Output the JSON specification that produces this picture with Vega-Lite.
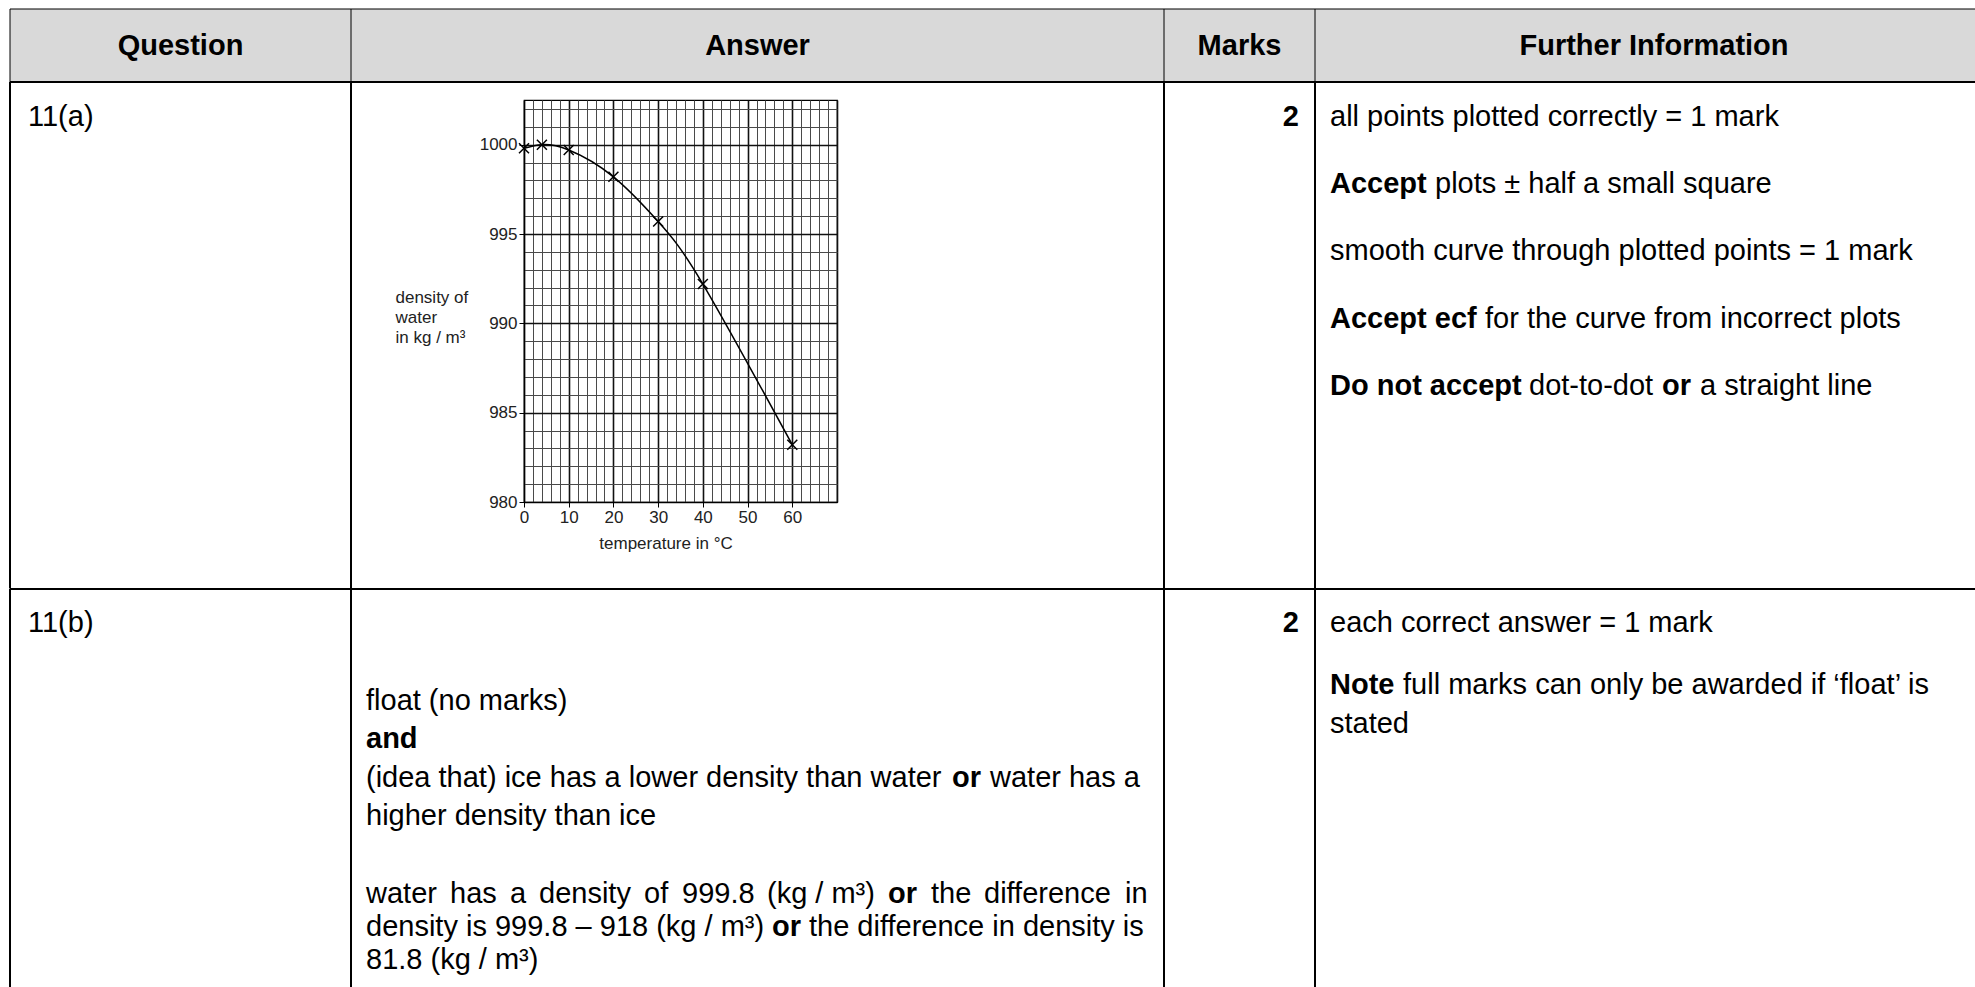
{
  "$schema": "https://vega.github.io/schema/vega-lite/v6.json",
  "padding": {"left": 9, "top": 8, "right": 0, "bottom": 0},
  "background": "white",
  "columns": 6,
  "spacing": 0,
  "bounds": "flush",
  "align": "each",
  "datasets": {
    "points": [
      {"temperature": 0, "density": 999.8},
      {"temperature": 4, "density": 1000.0},
      {"temperature": 10, "density": 999.7},
      {"temperature": 20, "density": 998.2},
      {"temperature": 30, "density": 995.7},
      {"temperature": 40, "density": 992.2},
      {"temperature": 60, "density": 983.2}
    ],
    "edge": [{"edge": "border"}],
    "cells": [
      {"row": "head", "col": "Q", "text": "Question"},
      {"row": "head", "col": "A", "text": "Answer"},
      {"row": "head", "col": "M", "text": "Marks"},
      {"row": "head", "col": "F", "text": "Further Information"},
      {"row": "a", "col": "Q", "line": 0, "seg": "plain", "text": "11(a)"},
      {"row": "a", "col": "M", "line": 0, "seg": "bold", "text": "2"},
      {"row": "a", "col": "F", "line": 0, "seg": "plain", "text": "all points plotted correctly = 1 mark"},
      {"row": "a", "col": "F", "line": 1, "seg": "bold", "text": "Accept"},
      {"row": "a", "col": "F", "line": 1, "seg": "after-accept", "text": "plots ± half a small square"},
      {"row": "a", "col": "F", "line": 2, "seg": "plain", "text": "smooth curve through plotted points = 1 mark"},
      {"row": "a", "col": "F", "line": 3, "seg": "bold", "text": "Accept ecf"},
      {"row": "a", "col": "F", "line": 3, "seg": "after-ecf", "text": "for the curve from incorrect plots"},
      {"row": "a", "col": "F", "line": 4, "seg": "bold", "text": "Do not accept"},
      {"row": "a", "col": "F", "line": 4, "seg": "after-dna", "text": "dot-to-dot"},
      {"row": "a", "col": "F", "line": 4, "seg": "dna-or", "text": "or"},
      {"row": "a", "col": "F", "line": 4, "seg": "dna-end", "text": "a straight line"},
      {"row": "b", "col": "Q", "line": 0, "seg": "plain", "text": "11(b)"},
      {"row": "b", "col": "M", "line": 0, "seg": "bold", "text": "2"},
      {"row": "b", "col": "F", "line": 0, "seg": "plain", "text": "each correct answer = 1 mark"},
      {"row": "b", "col": "F", "line": 2, "seg": "bold", "text": "Note"},
      {"row": "b", "col": "F", "line": 2, "seg": "after-note", "text": "full marks can only be awarded if ‘float’ is"},
      {"row": "b", "col": "F", "line": 3, "seg": "plain", "text": "stated"},
      {"row": "b", "col": "A", "line": 0, "seg": "plain", "text": "float (no marks)"},
      {"row": "b", "col": "A", "line": 1, "seg": "bold", "text": "and"},
      {"row": "b", "col": "A", "line": 2, "seg": "plain", "text": "(idea that) ice has a lower density than water"},
      {"row": "b", "col": "A", "line": 2, "seg": "idea-or", "text": "or"},
      {"row": "b", "col": "A", "line": 2, "seg": "idea-end", "text": "water has a"},
      {"row": "b", "col": "A", "line": 3, "seg": "plain", "text": "higher density than ice"},
      {"row": "b", "col": "A", "line": 5, "seg": "plain", "text": "water"},
      {"row": "b", "col": "A", "line": 5, "seg": "w2", "text": "has"},
      {"row": "b", "col": "A", "line": 5, "seg": "w3", "text": "a"},
      {"row": "b", "col": "A", "line": 5, "seg": "w4", "text": "density"},
      {"row": "b", "col": "A", "line": 5, "seg": "w5", "text": "of"},
      {"row": "b", "col": "A", "line": 5, "seg": "w6", "text": "999.8"},
      {"row": "b", "col": "A", "line": 5, "seg": "w7", "text": "(kg / m³)"},
      {"row": "b", "col": "A", "line": 5, "seg": "w-or", "text": "or"},
      {"row": "b", "col": "A", "line": 5, "seg": "w8", "text": "the"},
      {"row": "b", "col": "A", "line": 5, "seg": "w9", "text": "difference"},
      {"row": "b", "col": "A", "line": 5, "seg": "w10", "text": "in"},
      {"row": "b", "col": "A", "line": 6, "seg": "plain", "text": "density is 999.8 – 918 (kg / m³)"},
      {"row": "b", "col": "A", "line": 6, "seg": "d-or", "text": "or"},
      {"row": "b", "col": "A", "line": 6, "seg": "d-end", "text": "the difference in density is"},
      {"row": "b", "col": "A", "line": 7, "seg": "plain", "text": "81.8 (kg / m³)"}
    ]
  },
  "concat": [
    {
      "width": 341, "height": 73,
      "view": {"fill": "#d9d9d9", "stroke": null},
      "resolve": {"scale": {"x": "independent", "y": "independent"}},
      "layer": [
        {"data": {"name": "edge"}, "mark": {"type": "rule", "color": "black", "strokeWidth": 1}, "encoding": {"x": {"datum": 0, "type": "quantitative", "scale": {"domain": [0, 1]}, "axis": null}}},
        {"data": {"name": "edge"}, "mark": {"type": "rule", "color": "black", "strokeWidth": 1}, "encoding": {"y": {"datum": 1, "type": "quantitative", "scale": {"domain": [0, 1]}, "axis": null}}},
        {"data": {"name": "cells"}, "transform": [{"filter": "datum.row === 'head' && datum.col === 'Q'"}], "mark": {"type": "text", "font": "Liberation Sans", "fontSize": 29, "fontWeight": "bold", "color": "black", "align": "center", "baseline": "middle"}, "encoding": {"text": {"field": "text"}}}
      ]
    },
    {
      "width": 173, "height": 73,
      "view": {"fill": "#d9d9d9", "stroke": null},
      "resolve": {"scale": {"x": "independent", "y": "independent"}},
      "layer": [
        {"data": {"name": "edge"}, "mark": {"type": "rule", "color": "black", "strokeWidth": 1}, "encoding": {"x": {"datum": 0, "type": "quantitative", "scale": {"domain": [0, 1]}, "axis": null}}},
        {"data": {"name": "edge"}, "mark": {"type": "rule", "color": "black", "strokeWidth": 1}, "encoding": {"y": {"datum": 1, "type": "quantitative", "scale": {"domain": [0, 1]}, "axis": null}}}
      ]
    },
    {
      "width": 313, "height": 73,
      "view": {"fill": "#d9d9d9", "stroke": null},
      "resolve": {"scale": {"x": "independent", "y": "independent"}},
      "layer": [
        {"data": {"name": "edge"}, "mark": {"type": "rule", "color": "black", "strokeWidth": 1}, "encoding": {"y": {"datum": 1, "type": "quantitative", "scale": {"domain": [0, 1]}, "axis": null}}},
        {"data": {"name": "cells"}, "transform": [{"filter": "datum.row === 'head' && datum.col === 'A'"}], "mark": {"type": "text", "font": "Liberation Sans", "fontSize": 29, "fontWeight": "bold", "color": "black", "align": "center", "baseline": "middle", "dx": 77}, "encoding": {"text": {"field": "text"}}}
      ]
    },
    {
      "width": 327, "height": 73,
      "view": {"fill": "#d9d9d9", "stroke": null},
      "data": {"name": "edge"},
      "mark": {"type": "rule", "color": "black", "strokeWidth": 1},
      "encoding": {"y": {"datum": 1, "type": "quantitative", "scale": {"domain": [0, 1]}, "axis": null}}
    },
    {
      "width": 151, "height": 73,
      "view": {"fill": "#d9d9d9", "stroke": null},
      "resolve": {"scale": {"x": "independent", "y": "independent"}},
      "layer": [
        {"data": {"name": "edge"}, "mark": {"type": "rule", "color": "black", "strokeWidth": 1}, "encoding": {"x": {"datum": 0, "type": "quantitative", "scale": {"domain": [0, 1]}, "axis": null}}},
        {"data": {"name": "edge"}, "mark": {"type": "rule", "color": "black", "strokeWidth": 1}, "encoding": {"y": {"datum": 1, "type": "quantitative", "scale": {"domain": [0, 1]}, "axis": null}}},
        {"data": {"name": "cells"}, "transform": [{"filter": "datum.row === 'head' && datum.col === 'M'"}], "mark": {"type": "text", "font": "Liberation Sans", "fontSize": 29, "fontWeight": "bold", "color": "black", "align": "center", "baseline": "middle"}, "encoding": {"text": {"field": "text"}}}
      ]
    },
    {
      "width": 660, "height": 73,
      "view": {"fill": "#d9d9d9", "stroke": null},
      "resolve": {"scale": {"x": "independent", "y": "independent"}},
      "layer": [
        {"data": {"name": "edge"}, "mark": {"type": "rule", "color": "black", "strokeWidth": 1}, "encoding": {"x": {"datum": 0, "type": "quantitative", "scale": {"domain": [0, 1]}, "axis": null}}},
        {"data": {"name": "edge"}, "mark": {"type": "rule", "color": "black", "strokeWidth": 1}, "encoding": {"y": {"datum": 1, "type": "quantitative", "scale": {"domain": [0, 1]}, "axis": null}}},
        {"data": {"name": "cells"}, "transform": [{"filter": "datum.row === 'head' && datum.col === 'F'"}], "mark": {"type": "text", "font": "Liberation Sans", "fontSize": 29, "fontWeight": "bold", "color": "black", "align": "center", "baseline": "middle", "dx": 9}, "encoding": {"text": {"field": "text"}}}
      ]
    },

    {
      "width": 341, "height": 18,
      "resolve": {"scale": {"x": "independent", "y": "independent"}},
      "layer": [
        {"data": {"name": "edge"}, "mark": {"type": "rule", "color": "black", "strokeWidth": 2}, "encoding": {"x": {"datum": 0, "type": "quantitative", "scale": {"domain": [0, 1]}, "axis": null}}},
        {"data": {"name": "edge"}, "mark": {"type": "rule", "color": "black", "strokeWidth": 2}, "encoding": {"y": {"datum": 1, "type": "quantitative", "scale": {"domain": [0, 1]}, "axis": null}}}
      ]
    },
    {
      "width": 173, "height": 18,
      "resolve": {"scale": {"x": "independent", "y": "independent"}},
      "layer": [
        {"data": {"name": "edge"}, "mark": {"type": "rule", "color": "black", "strokeWidth": 2}, "encoding": {"x": {"datum": 0, "type": "quantitative", "scale": {"domain": [0, 1]}, "axis": null}}},
        {"data": {"name": "edge"}, "mark": {"type": "rule", "color": "black", "strokeWidth": 2}, "encoding": {"y": {"datum": 1, "type": "quantitative", "scale": {"domain": [0, 1]}, "axis": null}}}
      ]
    },
    {
      "width": 313, "height": 18,
      "data": {"name": "edge"},
      "mark": {"type": "rule", "color": "black", "strokeWidth": 2},
      "encoding": {"y": {"datum": 1, "type": "quantitative", "scale": {"domain": [0, 1]}, "axis": null}}
    },
    {
      "width": 327, "height": 18,
      "data": {"name": "edge"},
      "mark": {"type": "rule", "color": "black", "strokeWidth": 2},
      "encoding": {"y": {"datum": 1, "type": "quantitative", "scale": {"domain": [0, 1]}, "axis": null}}
    },
    {
      "width": 151, "height": 18,
      "resolve": {"scale": {"x": "independent", "y": "independent"}},
      "layer": [
        {"data": {"name": "edge"}, "mark": {"type": "rule", "color": "black", "strokeWidth": 2}, "encoding": {"x": {"datum": 0, "type": "quantitative", "scale": {"domain": [0, 1]}, "axis": null}}},
        {"data": {"name": "edge"}, "mark": {"type": "rule", "color": "black", "strokeWidth": 2}, "encoding": {"y": {"datum": 1, "type": "quantitative", "scale": {"domain": [0, 1]}, "axis": null}}}
      ]
    },
    {
      "width": 660, "height": 18,
      "resolve": {"scale": {"x": "independent", "y": "independent"}},
      "layer": [
        {"data": {"name": "edge"}, "mark": {"type": "rule", "color": "black", "strokeWidth": 2}, "encoding": {"x": {"datum": 0, "type": "quantitative", "scale": {"domain": [0, 1]}, "axis": null}}},
        {"data": {"name": "edge"}, "mark": {"type": "rule", "color": "black", "strokeWidth": 2}, "encoding": {"y": {"datum": 1, "type": "quantitative", "scale": {"domain": [0, 1]}, "axis": null}}}
      ]
    },

    {
      "width": 341, "height": 488.5,
      "resolve": {"scale": {"x": "independent", "y": "independent"}},
      "layer": [
        {"data": {"name": "edge"}, "mark": {"type": "rule", "color": "black", "strokeWidth": 2}, "encoding": {"x": {"datum": 0, "type": "quantitative", "scale": {"domain": [0, 1]}, "axis": null}}},
        {
          "data": {"name": "cells"},
          "transform": [{"filter": "datum.row === 'a' && datum.col === 'Q'"}],
          "mark": {"type": "text", "font": "Liberation Sans", "fontSize": 29, "color": "black", "align": "left", "baseline": "middle", "dx": 18},
          "encoding": {
            "x": {"datum": 0, "type": "quantitative", "scale": {"domain": [0, 1]}, "axis": null},
            "y": {"field": "line", "type": "quantitative", "scale": {"domain": [0, 4], "range": [16.5, 286], "nice": false, "zero": false}, "axis": null},
            "text": {"field": "text"}
          }
        }
      ]
    },
    {
      "width": 173, "height": 488.5,
      "data": {"name": "edge"},
      "mark": {"type": "rule", "color": "black", "strokeWidth": 2},
      "encoding": {"x": {"datum": 0, "type": "quantitative", "scale": {"domain": [0, 1]}, "axis": null}}
    },
    {
      "width": 313, "height": 402,
      "view": {"stroke": "black", "strokeWidth": 1.2},
      "data": {"name": "points"},
      "encoding": {
        "x": {
          "field": "temperature", "type": "quantitative",
          "scale": {"domain": [0, 70], "nice": false, "zero": false},
          "axis": {
            "values": [0, 2, 4, 6, 8, 10, 12, 14, 16, 18, 20, 22, 24, 26, 28, 30, 32, 34, 36, 38, 40, 42, 44, 46, 48, 50, 52, 54, 56, 58, 60, 62, 64, 66, 68, 70],
            "grid": true,
            "gridColor": {"condition": {"test": "datum.value % 10 === 0", "value": "#111111"}, "value": "#4a4a4a"},
            "gridWidth": {"condition": {"test": "datum.value % 10 === 0", "value": 1.6}, "value": 1},
            "gridOpacity": 1,
            "domain": true, "domainColor": "black", "domainWidth": 1.2,
            "ticks": true, "tickColor": "black", "tickSize": 5, "tickWidth": 1,
            "tickOpacity": {"condition": {"test": "datum.value % 10 === 0 && datum.value <= 60", "value": 1}, "value": 0},
            "format": "d",
            "labelExpr": "datum.value % 10 === 0 && datum.value <= 60 ? datum.label : ''",
            "labelFont": "Liberation Sans", "labelFontSize": 17, "labelColor": "#222222", "labelPadding": 2,
            "labelOverlap": false, "labelFlush": false, "labelBound": false,
            "title": "temperature in °C",
            "titleFont": "Liberation Sans", "titleFontSize": 17, "titleFontWeight": "normal", "titleColor": "#222222",
            "titleX": 141.5, "titleY": 41, "titleAlign": "center", "titleBaseline": "middle"
          }
        },
        "y": {
          "field": "density", "type": "quantitative",
          "scale": {"domain": [980, 1002.5], "nice": false, "zero": false},
          "axis": {
            "values": [980, 980.5, 981, 981.5, 982, 982.5, 983, 983.5, 984, 984.5, 985, 985.5, 986, 986.5, 987, 987.5, 988, 988.5, 989, 989.5, 990, 990.5, 991, 991.5, 992, 992.5, 993, 993.5, 994, 994.5, 995, 995.5, 996, 996.5, 997, 997.5, 998, 998.5, 999, 999.5, 1000, 1000.5, 1001, 1001.5, 1002, 1002.5],
            "grid": true,
            "gridColor": {"condition": {"test": "datum.value % 5 === 0", "value": "#111111"}, "value": "#4a4a4a"},
            "gridWidth": {"condition": {"test": "datum.value % 5 === 0", "value": 1.6}, "value": 1},
            "gridOpacity": 1,
            "domain": true, "domainColor": "black", "domainWidth": 1.2,
            "ticks": true, "tickColor": "black", "tickSize": 5, "tickWidth": 1,
            "tickOpacity": {"condition": {"test": "datum.value % 5 === 0 && datum.value <= 1000", "value": 1}, "value": 0},
            "format": "d",
            "labelExpr": "datum.value % 5 === 0 && datum.value <= 1000 ? datum.label : ''",
            "labelFont": "Liberation Sans", "labelFontSize": 17, "labelColor": "#222222", "labelPadding": 2,
            "labelOverlap": false, "labelFlush": false, "labelBound": false,
            "title": ["density of", "water", "in kg / m³"],
            "titleFont": "Liberation Sans", "titleFontSize": 17, "titleFontWeight": "normal", "titleColor": "#222222",
            "titleAngle": 0, "titleAlign": "left", "titleBaseline": "middle",
            "titleX": -129, "titleY": 197, "titleLineHeight": 20
          }
        }
      },
      "layer": [
        {"mark": {"type": "line", "interpolate": "natural", "color": "black", "strokeWidth": 1.5}},
        {"mark": {"type": "point", "shape": "M-1,-1L1,1M-1,1L1,-1", "filled": false, "color": "black", "size": 100, "strokeWidth": 1.5, "opacity": 1}}
      ]
    },
    {
      "width": 327, "height": 488.5,
      "data": {"name": "edge"},
      "mark": {"type": "rule", "opacity": 0},
      "encoding": {"x": {"datum": 0, "type": "quantitative", "scale": {"domain": [0, 1]}, "axis": null}}
    },
    {
      "width": 151, "height": 488.5,
      "resolve": {"scale": {"x": "independent", "y": "independent"}},
      "layer": [
        {"data": {"name": "edge"}, "mark": {"type": "rule", "color": "black", "strokeWidth": 2}, "encoding": {"x": {"datum": 0, "type": "quantitative", "scale": {"domain": [0, 1]}, "axis": null}}},
        {
          "data": {"name": "cells"},
          "transform": [{"filter": "datum.row === 'a' && datum.col === 'M'"}],
          "mark": {"type": "text", "font": "Liberation Sans", "fontSize": 29, "fontWeight": "bold", "color": "black", "align": "right", "baseline": "middle", "dx": -16},
          "encoding": {
            "x": {"datum": 1, "type": "quantitative", "scale": {"domain": [0, 1]}, "axis": null},
            "y": {"field": "line", "type": "quantitative", "scale": {"domain": [0, 4], "range": [16.5, 286], "nice": false, "zero": false}, "axis": null},
            "text": {"field": "text"}
          }
        }
      ]
    },
    {
      "width": 660, "height": 488.5,
      "resolve": {"scale": {"x": "independent", "y": "independent"}},
      "layer": [
        {"data": {"name": "edge"}, "mark": {"type": "rule", "color": "black", "strokeWidth": 2}, "encoding": {"x": {"datum": 0, "type": "quantitative", "scale": {"domain": [0, 1]}, "axis": null}}},
        {
          "data": {"name": "cells"},
          "transform": [{"filter": "datum.row === 'a' && datum.col === 'F'"}],
          "encoding": {
            "x": {"datum": 0, "type": "quantitative", "scale": {"domain": [0, 1]}, "axis": null},
            "y": {"field": "line", "type": "quantitative", "scale": {"domain": [0, 4], "range": [16.5, 286], "nice": false, "zero": false}, "axis": null},
            "text": {"field": "text"}
          },
          "layer": [
            {"transform": [{"filter": {"field": "seg", "equal": "plain"}}], "mark": {"type": "text", "font": "Liberation Sans", "fontSize": 29, "color": "black", "align": "left", "baseline": "middle", "dx": 15}},
            {"transform": [{"filter": {"field": "seg", "equal": "bold"}}], "mark": {"type": "text", "font": "Liberation Sans", "fontSize": 29, "fontWeight": "bold", "color": "black", "align": "left", "baseline": "middle", "dx": 15}},
            {"transform": [{"filter": {"field": "seg", "equal": "after-accept"}}], "mark": {"type": "text", "font": "Liberation Sans", "fontSize": 29, "color": "black", "align": "left", "baseline": "middle", "dx": 120}},
            {"transform": [{"filter": {"field": "seg", "equal": "after-ecf"}}], "mark": {"type": "text", "font": "Liberation Sans", "fontSize": 29, "color": "black", "align": "left", "baseline": "middle", "dx": 170}},
            {"transform": [{"filter": {"field": "seg", "equal": "after-dna"}}], "mark": {"type": "text", "font": "Liberation Sans", "fontSize": 29, "color": "black", "align": "left", "baseline": "middle", "dx": 214}},
            {"transform": [{"filter": {"field": "seg", "equal": "dna-or"}}], "mark": {"type": "text", "font": "Liberation Sans", "fontSize": 29, "fontWeight": "bold", "color": "black", "align": "left", "baseline": "middle", "dx": 347}},
            {"transform": [{"filter": {"field": "seg", "equal": "dna-end"}}], "mark": {"type": "text", "font": "Liberation Sans", "fontSize": 29, "color": "black", "align": "left", "baseline": "middle", "dx": 385}}
          ]
        }
      ]
    },

    {
      "width": 341, "height": 398,
      "resolve": {"scale": {"x": "independent", "y": "independent"}},
      "layer": [
        {"data": {"name": "edge"}, "mark": {"type": "rule", "color": "black", "strokeWidth": 2}, "encoding": {"x": {"datum": 0, "type": "quantitative", "scale": {"domain": [0, 1]}, "axis": null}}},
        {"data": {"name": "edge"}, "mark": {"type": "rule", "color": "black", "strokeWidth": 2}, "encoding": {"y": {"datum": 1, "type": "quantitative", "scale": {"domain": [0, 1]}, "axis": null}}},
        {
          "data": {"name": "cells"},
          "transform": [{"filter": "datum.row === 'b' && datum.col === 'Q'"}],
          "mark": {"type": "text", "font": "Liberation Sans", "fontSize": 29, "color": "black", "align": "left", "baseline": "middle", "dx": 18},
          "encoding": {
            "x": {"datum": 0, "type": "quantitative", "scale": {"domain": [0, 1]}, "axis": null},
            "y": {"field": "line", "type": "quantitative", "scale": {"domain": [0, 3], "range": [34, 135], "nice": false, "zero": false}, "axis": null},
            "text": {"field": "text"}
          }
        }
      ]
    },
    {
      "width": 173, "height": 398,
      "resolve": {"scale": {"x": "independent", "y": "independent"}},
      "layer": [
        {"data": {"name": "edge"}, "mark": {"type": "rule", "color": "black", "strokeWidth": 2}, "encoding": {"x": {"datum": 0, "type": "quantitative", "scale": {"domain": [0, 1]}, "axis": null}}},
        {"data": {"name": "edge"}, "mark": {"type": "rule", "color": "black", "strokeWidth": 2}, "encoding": {"y": {"datum": 1, "type": "quantitative", "scale": {"domain": [0, 1]}, "axis": null}}},
        {
          "data": {"name": "cells"},
          "transform": [{"filter": "datum.row === 'b' && datum.col === 'A'"}],
          "encoding": {
            "x": {"datum": 0, "type": "quantitative", "scale": {"domain": [0, 1]}, "axis": null},
            "y": {"field": "line", "type": "quantitative", "scale": {"domain": [0, 3, 5, 7], "range": [111.5, 227, 305, 371], "nice": false, "zero": false}, "axis": null},
            "text": {"field": "text"}
          },
          "layer": [
            {"transform": [{"filter": {"field": "seg", "equal": "plain"}}], "mark": {"type": "text", "font": "Liberation Sans", "fontSize": 29, "color": "black", "align": "left", "baseline": "middle", "dx": 15}},
            {"transform": [{"filter": {"field": "seg", "equal": "bold"}}], "mark": {"type": "text", "font": "Liberation Sans", "fontSize": 29, "fontWeight": "bold", "color": "black", "align": "left", "baseline": "middle", "dx": 15}},
            {"transform": [{"filter": {"field": "seg", "equal": "idea-or"}}], "mark": {"type": "text", "font": "Liberation Sans", "fontSize": 29, "fontWeight": "bold", "color": "black", "align": "left", "baseline": "middle", "dx": 601}},
            {"transform": [{"filter": {"field": "seg", "equal": "idea-end"}}], "mark": {"type": "text", "font": "Liberation Sans", "fontSize": 29, "color": "black", "align": "left", "baseline": "middle", "dx": 639}},
            {"transform": [{"filter": {"field": "seg", "equal": "w2"}}], "mark": {"type": "text", "font": "Liberation Sans", "fontSize": 29, "color": "black", "align": "left", "baseline": "middle", "dx": 99}},
            {"transform": [{"filter": {"field": "seg", "equal": "w3"}}], "mark": {"type": "text", "font": "Liberation Sans", "fontSize": 29, "color": "black", "align": "left", "baseline": "middle", "dx": 159}},
            {"transform": [{"filter": {"field": "seg", "equal": "w4"}}], "mark": {"type": "text", "font": "Liberation Sans", "fontSize": 29, "color": "black", "align": "left", "baseline": "middle", "dx": 188}},
            {"transform": [{"filter": {"field": "seg", "equal": "w5"}}], "mark": {"type": "text", "font": "Liberation Sans", "fontSize": 29, "color": "black", "align": "left", "baseline": "middle", "dx": 293}},
            {"transform": [{"filter": {"field": "seg", "equal": "w6"}}], "mark": {"type": "text", "font": "Liberation Sans", "fontSize": 29, "color": "black", "align": "left", "baseline": "middle", "dx": 331}},
            {"transform": [{"filter": {"field": "seg", "equal": "w7"}}], "mark": {"type": "text", "font": "Liberation Sans", "fontSize": 29, "color": "black", "align": "left", "baseline": "middle", "dx": 416}},
            {"transform": [{"filter": {"field": "seg", "equal": "w-or"}}], "mark": {"type": "text", "font": "Liberation Sans", "fontSize": 29, "fontWeight": "bold", "color": "black", "align": "left", "baseline": "middle", "dx": 537}},
            {"transform": [{"filter": {"field": "seg", "equal": "w8"}}], "mark": {"type": "text", "font": "Liberation Sans", "fontSize": 29, "color": "black", "align": "left", "baseline": "middle", "dx": 580}},
            {"transform": [{"filter": {"field": "seg", "equal": "w9"}}], "mark": {"type": "text", "font": "Liberation Sans", "fontSize": 29, "color": "black", "align": "left", "baseline": "middle", "dx": 633}},
            {"transform": [{"filter": {"field": "seg", "equal": "w10"}}], "mark": {"type": "text", "font": "Liberation Sans", "fontSize": 29, "color": "black", "align": "left", "baseline": "middle", "dx": 774}},
            {"transform": [{"filter": {"field": "seg", "equal": "d-or"}}], "mark": {"type": "text", "font": "Liberation Sans", "fontSize": 29, "fontWeight": "bold", "color": "black", "align": "left", "baseline": "middle", "dx": 421}},
            {"transform": [{"filter": {"field": "seg", "equal": "d-end"}}], "mark": {"type": "text", "font": "Liberation Sans", "fontSize": 29, "color": "black", "align": "left", "baseline": "middle", "dx": 458}}
          ]
        }
      ]
    },
    {
      "width": 313, "height": 398,
      "data": {"name": "edge"},
      "mark": {"type": "rule", "color": "black", "strokeWidth": 2},
      "encoding": {"y": {"datum": 1, "type": "quantitative", "scale": {"domain": [0, 1]}, "axis": null}}
    },
    {
      "width": 327, "height": 398,
      "data": {"name": "edge"},
      "mark": {"type": "rule", "color": "black", "strokeWidth": 2},
      "encoding": {"y": {"datum": 1, "type": "quantitative", "scale": {"domain": [0, 1]}, "axis": null}}
    },
    {
      "width": 151, "height": 398,
      "resolve": {"scale": {"x": "independent", "y": "independent"}},
      "layer": [
        {"data": {"name": "edge"}, "mark": {"type": "rule", "color": "black", "strokeWidth": 2}, "encoding": {"x": {"datum": 0, "type": "quantitative", "scale": {"domain": [0, 1]}, "axis": null}}},
        {"data": {"name": "edge"}, "mark": {"type": "rule", "color": "black", "strokeWidth": 2}, "encoding": {"y": {"datum": 1, "type": "quantitative", "scale": {"domain": [0, 1]}, "axis": null}}},
        {
          "data": {"name": "cells"},
          "transform": [{"filter": "datum.row === 'b' && datum.col === 'M'"}],
          "mark": {"type": "text", "font": "Liberation Sans", "fontSize": 29, "fontWeight": "bold", "color": "black", "align": "right", "baseline": "middle", "dx": -16},
          "encoding": {
            "x": {"datum": 1, "type": "quantitative", "scale": {"domain": [0, 1]}, "axis": null},
            "y": {"field": "line", "type": "quantitative", "scale": {"domain": [0, 3], "range": [34, 135], "nice": false, "zero": false}, "axis": null},
            "text": {"field": "text"}
          }
        }
      ]
    },
    {
      "width": 660, "height": 398,
      "resolve": {"scale": {"x": "independent", "y": "independent"}},
      "layer": [
        {"data": {"name": "edge"}, "mark": {"type": "rule", "color": "black", "strokeWidth": 2}, "encoding": {"x": {"datum": 0, "type": "quantitative", "scale": {"domain": [0, 1]}, "axis": null}}},
        {"data": {"name": "edge"}, "mark": {"type": "rule", "color": "black", "strokeWidth": 2}, "encoding": {"y": {"datum": 1, "type": "quantitative", "scale": {"domain": [0, 1]}, "axis": null}}},
        {
          "data": {"name": "cells"},
          "transform": [{"filter": "datum.row === 'b' && datum.col === 'F'"}],
          "encoding": {
            "x": {"datum": 0, "type": "quantitative", "scale": {"domain": [0, 1]}, "axis": null},
            "y": {"field": "line", "type": "quantitative", "scale": {"domain": [0, 2, 3], "range": [34, 96, 135], "nice": false, "zero": false}, "axis": null},
            "text": {"field": "text"}
          },
          "layer": [
            {"transform": [{"filter": {"field": "seg", "equal": "plain"}}], "mark": {"type": "text", "font": "Liberation Sans", "fontSize": 29, "color": "black", "align": "left", "baseline": "middle", "dx": 15}},
            {"transform": [{"filter": {"field": "seg", "equal": "bold"}}], "mark": {"type": "text", "font": "Liberation Sans", "fontSize": 29, "fontWeight": "bold", "color": "black", "align": "left", "baseline": "middle", "dx": 15}},
            {"transform": [{"filter": {"field": "seg", "equal": "after-note"}}], "mark": {"type": "text", "font": "Liberation Sans", "fontSize": 29, "color": "black", "align": "left", "baseline": "middle", "dx": 88}}
          ]
        }
      ]
    }
  ],
  "config": {
    "view": {"stroke": null},
    "font": "Liberation Sans",
    "concat": {"spacing": 0}
  }
}
